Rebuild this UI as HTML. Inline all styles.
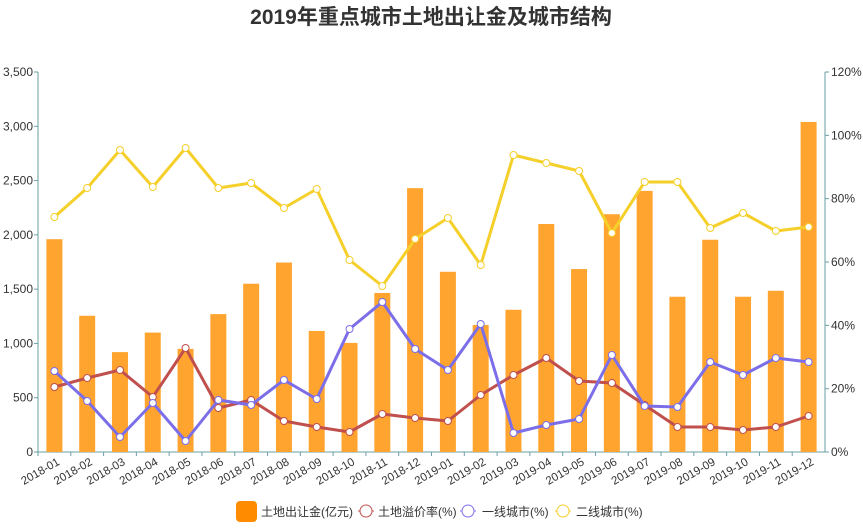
<!DOCTYPE html>
<html><head><meta charset="utf-8"><style>
body{margin:0;background:#fff;}
svg{display:block;font-family:"Liberation Sans","Noto Sans CJK SC",sans-serif;}
</style></head><body>
<svg id="c" width="863" height="529" xmlns="http://www.w3.org/2000/svg">
<text x="431" y="24" text-anchor="middle" font-size="21" font-weight="bold" fill="#333">2019年重点城市土地出让金及城市结构</text>
</svg>
<script>
var s=document.getElementById('c'),ns='http://www.w3.org/2000/svg';
function el(t,a,txt){var e=document.createElementNS(ns,t);for(var k in a)e.setAttribute(k,a[k]);if(txt!=null)e.textContent=txt;s.appendChild(e);return e;}
var L=38,R=825,B=452,T=72;
var bars=[1960,1255,920,1100,950,1270,1550,1745,1115,1005,1465,2430,1660,1170,1310,2100,1685,2190,2405,1430,1955,1430,1485,3040];
var red=[387,378,370,397,348,408,400,421,427,432,414,418,421,395,375,358,381,383,405,427,427,430,427,416];
var blue=[371,401,437,403,441,400,405,380,399,329,302,349,370,324,433,425,419,355,406,407,362,375,358,362];
var yel=[217,188,150,187,148,188,183,208,189,260,286,239,218,265,155,163,171,233,182,182,228,213,231,227];
var step=(R-L)/24;
// axes
el('line',{x1:L,y1:T,x2:L,y2:B,stroke:'#6a9fa6','stroke-width':1});
el('line',{x1:R,y1:T,x2:R,y2:B,stroke:'#6a9fa6','stroke-width':1});
el('line',{x1:L,y1:B,x2:R,y2:B,stroke:'#6a9fa6','stroke-width':1});
for(var i=0;i<=7;i++){var y=B-i*(B-T)/7;
 el('line',{x1:L-4,y1:y,x2:L,y2:y,stroke:'#6a9fa6'});
 el('text',{x:L-5,y:y+4,'text-anchor':'end','font-size':12,fill:'#333'},(i*500).toLocaleString('en-US'));}
for(var i=0;i<=6;i++){var y=B-i*(B-T)/6;
 el('line',{x1:R,y1:y,x2:R+4,y2:y,stroke:'#6a9fa6'});
 el('text',{x:R+6,y:y+4,'font-size':12,fill:'#333'},(i*20)+'%');}
var labs=[];for(var yy=2018;yy<=2019;yy++)for(var m=1;m<=12;m++)labs.push(yy+'-'+(m<10?'0':'')+m);
for(var i=0;i<24;i++){var cx=L+step*(i+0.5);var h=bars[i]*(B-T)/3500;
 el('rect',{x:cx-8,y:B-h,width:16,height:h,fill:'#ffa52f'});
 el('line',{x1:L+step*i,y1:B,x2:L+step*i,y2:B+4,stroke:'#6a9fa6'});
 el('text',{x:cx+6,y:B+12,'text-anchor':'end','font-size':11.5,fill:'#333',transform:'rotate(-30 '+(cx+6)+' '+(B+12)+')'},labs[i]);}
function line(d,c){var p=d.map(function(v,i){return (L+step*(i+0.5)).toFixed(1)+','+v}).join(' ');
 el('polyline',{points:p,fill:'none',stroke:c,'stroke-width':3,'stroke-linejoin':'round'});
 d.forEach(function(v,i){el('circle',{cx:L+step*(i+0.5),cy:v,r:3.5,fill:'#fff',stroke:c,'stroke-width':1});});}
line(red,'#c0504d');line(blue,'#7b6ee8');line(yel,'#f5cf2a');
// legend
el('rect',{x:236,y:501,width:21,height:21,rx:4,fill:'#ff8c00'});
el('text',{x:261,y:516,'font-size':12,fill:'#333'},'土地出让金(亿元)');
[[358,378,'#c0504d','土地溢价率(%)'],[460,482,'#7b6ee8','一线城市(%)'],[555,576,'#f5cf2a','二线城市(%)']].forEach(function(a){
 el('line',{x1:a[0],y1:511,x2:a[0]+16,y2:511,stroke:a[2],'stroke-width':1});
 el('circle',{cx:a[0]+8,cy:511,r:6,fill:'#fff',stroke:a[2],'stroke-width':1});
 el('text',{x:a[1],y:516,'font-size':12,fill:'#333'},a[3]);});
</script>
</body></html>
